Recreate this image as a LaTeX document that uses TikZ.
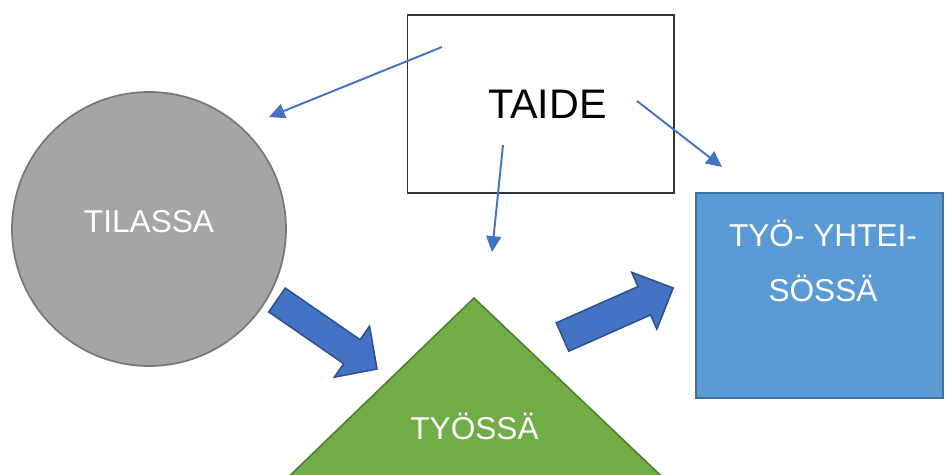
\documentclass[tikz,border=0pt]{standalone}
\usepackage{fontspec}
\setmainfont{Liberation Sans}
\usepackage{tikz}
\usetikzlibrary{arrows.meta}
\definecolor{ballgray}{HTML}{A5A5A5}
\definecolor{ballline}{HTML}{787878}
\definecolor{trigreen}{HTML}{70AD47}
\definecolor{triline}{HTML}{507E32}
\definecolor{boxblue}{HTML}{5B9BD5}
\definecolor{boxline}{HTML}{41719C}
\definecolor{arrblue}{HTML}{4472C4}
\definecolor{arrline}{HTML}{2F528F}
\tikzset{%
    wtxt/.style={text=white,font=\fontsize{18}{31}\selectfont,inner sep=0pt},
    thinarr/.style={draw=arrblue,line width=1.1pt,-{Triangle[length=9pt,width=8.5pt]}},
    blockarr/.style={fill=arrblue,draw=arrline,line width=0.9pt,line join=miter}
}
\begin{document}
\begin{tikzpicture}[x=0.02cm,y=-0.02cm,
    ball/.style={circle,fill=ballgray,draw=ballline,line width=1pt,minimum size=5.48cm,inner sep=0pt},
    taidebox/.style={rectangle,draw=black!80,line width=0.6pt,minimum width=5.34cm,minimum height=3.56cm},
    bluebox/.style={rectangle,fill=boxblue,draw=boxline,line width=1pt,minimum width=4.94cm,minimum height=4.1cm}]
        \clip (0,0) rectangle (945,475);

        \node[ball] (tilassa) at (149,229){};
        \node[wtxt] (tilassatxt) at ([yshift=0.14cm]tilassa.center){TILASSA};

        \node[taidebox] (taide) at (540.5,104){};
        \node[inner sep=0pt,font=\fontsize{23.5}{28}\selectfont] (taidetxt) at (547.5,104){TAIDE};

        \node[bluebox] (yhteiso) at (819.5,295.5){};
        \node[wtxt,align=center] (yhteisotxt) at (823,261){TYÖ- YHTEI-\\SÖSSÄ};

        \draw[fill=trigreen,draw=triline,line width=0.9pt,line join=miter]
            (474,298) -- (275,490) -- (676,490) -- cycle;
        \node[wtxt] (tyossa) at (474.5,426.5){TYÖSSÄ};

        % block arrows
        \draw[blockarr,shift={(277,300)},rotate=-34.6]
            (0,-14.5) -- (91,-14.5) -- (91,-31) -- (121.5,0) -- (91,31) -- (91,14.5) -- (0,14.5) -- cycle;
        \draw[blockarr,shift={(562.5,337)},rotate=23.9]
            (0,-15.5) -- (89.5,-15.5) -- (89.5,-31) -- (121,0) -- (89.5,31) -- (89.5,15.5) -- (0,15.5) -- cycle;

        % thin arrows out of the box
        \coordinate (s1) at (442,47);
        \coordinate (e1) at (269,117);
        \coordinate (s2) at (637,101);
        \coordinate (e2) at (722,167);
        \coordinate (s3) at (503,145);
        \coordinate (e3) at (492,252);
        \path[]
            (s1) edge[thinarr] (e1)
            (s2) edge[thinarr] (e2)
            (s3) edge[thinarr] (e3);
    \end{tikzpicture}
\end{document}
